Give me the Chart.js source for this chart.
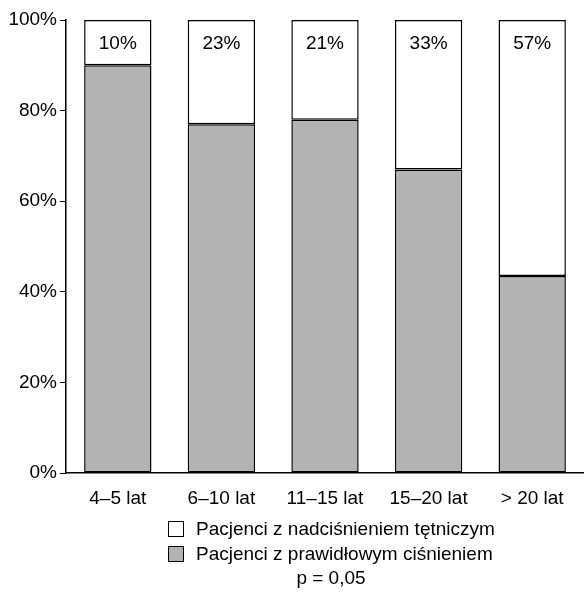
<!DOCTYPE html>
<html>
<head>
<meta charset="utf-8">
<script src="https://cdn.jsdelivr.net/npm/chart.js@4"></script>
<style>
    html, body { margin: 0; padding: 0; background: #fff; }
    #wrap { width: 584px; height: 595px; }
</style>
</head>
<body>
<div id="wrap"><canvas id="chartCisnienie"></canvas></div>
<script>
// ==================== DATA ====================
const kategorie = ['4–5 lat', '6–10 lat', '11–15 lat', '15–20 lat', '> 20 lat'];
const prawidlowe = [90, 77, 78, 67, 43.5];      // szare (dół)
const nadcisnienie = [10, 23, 22, 33, 56.5];    // białe (góra)
const etykietyProcent = ['10%', '23%', '21%', '33%', '57%'];
const yTicks = [0, 20, 40, 60, 80, 100];
const nazwaNadcisnienie = 'Pacjenci z nadciśnieniem tętniczym';
const nazwaPrawidlowe = 'Pacjenci z prawidłowym ciśnieniem';
const notka = 'p = 0,05';

const FONT = "'Liberation Sans', Arial, sans-serif";

// napisy % na białych słupkach + legenda + p
const dekoracje = {
    id: 'dekoracje',
    afterDatasetsDraw(chart) {
        const ctx = chart.ctx;
        const meta = chart.getDatasetMeta(1);
        ctx.save();
        ctx.font = '19px ' + FONT;
        ctx.fillStyle = '#000';
        ctx.textAlign = 'center';
        ctx.textBaseline = 'middle';
        meta.data.forEach((bar, i) => {
            ctx.fillText(etykietyProcent[i], bar.x, chart.chartArea.top + 24);
        });

        // legenda - białe pierwsze
        const items = [chart.data.datasets[1], chart.data.datasets[0]];
        ctx.textAlign = 'left';
        items.forEach((ds, i) => {
            const y = 521 + i * 25;
            ctx.fillStyle = ds.backgroundColor;
            ctx.fillRect(168.5, y + 0.5, 15, 15);
            ctx.strokeStyle = '#000';
            ctx.lineWidth = 1;
            ctx.strokeRect(168.5, y + 0.5, 15, 15);
            ctx.fillStyle = '#000';
            ctx.fillText(ds.label, 196, y + 9);
        });

        ctx.textAlign = 'center';
        ctx.fillText(notka, 331, 579);
        ctx.restore();
    }
};

new Chart(document.getElementById('chartCisnienie'), {
    type: 'bar',
    data: {
        labels: kategorie,
        datasets: [{
            label: nazwaPrawidlowe,
            data: prawidlowe,
            backgroundColor: '#b3b3b3',
            borderColor: '#000',
            borderWidth: 1.5,
            borderSkipped: false
        }, {
            label: nazwaNadcisnienie,
            data: nadcisnienie,
            backgroundColor: '#ffffff',
            borderColor: '#000',
            borderWidth: 1.5,
            borderSkipped: false
        }]
    },
    options: {
        responsive: true,
        maintainAspectRatio: false,
        animation: false,
        layout: { padding: { top: 20, right: 0, left: 0, bottom: 82 } },
        datasets: { bar: { categoryPercentage: 1, barPercentage: 0.65 } },
        plugins: {
            legend: { display: false },
            tooltip: { enabled: false }
        },
        scales: {
            x: {
                stacked: true,
                afterFit: s => { s.height = 40; },
                grid: { display: false },
                border: { display: true, color: '#000', width: 1.5 },
                ticks: { color: '#000', padding: 6, font: { family: FONT, size: 19 } }
            },
            y: {
                stacked: true,
                min: 0,
                max: 100,
                afterFit: s => { s.width = 66; },
                afterBuildTicks: s => { s.ticks = yTicks.map(v => ({ value: v })); },
                grid: { drawOnChartArea: false, drawTicks: true, tickLength: 6, color: '#000' },
                border: { display: true, color: '#000', width: 1.5 },
                ticks: {
                    color: '#000',
                    padding: 3,
                    font: { family: FONT, size: 19 },
                    callback: v => v + '%'
                }
            }
        }
    },
    plugins: [dekoracje]
});
</script>
</body>
</html>
